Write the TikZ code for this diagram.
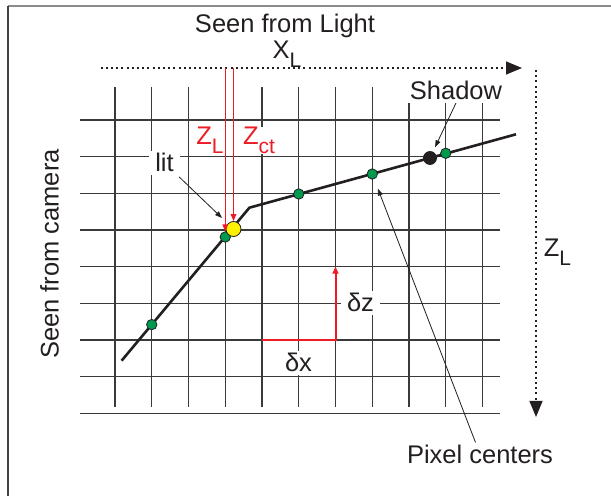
\documentclass[tikz,border=0pt]{standalone}
\usepackage{fontspec}
\setsansfont{Liberation Sans}
\usepackage{tikz}
\usetikzlibrary{arrows.meta}
\definecolor{ink}{HTML}{231F20}
\definecolor{gridgray}{HTML}{3A3A3A}
\definecolor{framegray}{HTML}{8C8C8C}
\definecolor{rayred}{HTML}{ED1C24}
\definecolor{pixgreen}{HTML}{009A4E}
\definecolor{lityellow}{HTML}{FFF200}
\newcommand{\lowidx}[1]{\raisebox{-4.5pt}{\fontsize{10.5}{12}\selectfont #1}}
\tikzset{
  font=\sffamily\fontsize{12.75}{15}\selectfont,
  gridline/.style={draw=gridgray, line width=0.65pt},
  surface/.style={draw=ink, line width=1.3pt},
  pix/.style={circle, draw=ink, line width=0.4pt, fill=pixgreen, minimum size=5.2pt, inner sep=0pt},
  litpt/.style={pix, fill=lityellow, minimum size=7.5pt},
  shadowpt/.style={pix, fill=ink, minimum size=6.5pt},
  lbl/.style={text=ink, anchor=base, inner sep=1pt},
  masklbl/.style={lbl, fill=white, inner xsep=3pt, inner ysep=1.5pt},
  axis/.style={draw=ink, line width=0.65pt, dash pattern=on 1pt off 1.6pt, -{Triangle[length=8pt,width=6.5pt]}},
  ray/.style={draw=rayred, line width=0.65pt, -{Triangle[length=3.5pt,width=2.8pt]}},
  delta/.style={draw=rayred, line width=1pt, -{Triangle[length=3.5pt,width=3pt]}},
  pointer/.style={draw=ink, line width=0.4pt, -{Triangle[length=3.5pt,width=2.5pt]}}
}
\begin{document}
\begin{tikzpicture}[x=0.5pt, y=-0.5pt]
  \useasboundingbox (0,0) rectangle (611,496);

  % Frame
  \draw[framegray, line width=1pt] (8,6) -- (611,6);
  \draw[ink!85, line width=0.6pt] (8,6) -- (8,496);

  % Pixel grid
  \foreach \r in {0,...,8}
    \draw[gridline] (80,{120+36.667*\r}) -- (500,{120+36.667*\r});
  \foreach \c in {0,...,10}
    \draw[gridline] ({115+36.75*\c},87) -- ({115+36.75*\c},407);

  % Light axes
  \coordinate (xa0) at (100.5,68);
  \coordinate (xa1) at (522,68);
  \coordinate (za0) at (536,70);
  \coordinate (za1) at (536,417);
  \draw[axis] (xa0) -- (xa1);
  \draw[axis] (za0) -- (za1);

  % Surface
  \coordinate (s0) at (121.6,360.7);
  \coordinate (s1) at (249.4,207.7);
  \coordinate (s2) at (516,134.3);
  \draw[surface] (s0) -- (s1) -- (s2);

  % Labels
  \node[lbl] (light) at (285,32.7) {Seen from Light};
  \node[lbl] (xl) at (287,59) {X\lowidx{L}};
  \node[lbl, rotate=90] (cam) at (58.5,254) {Seen from camera};
  \node[lbl, text=rayred] (zl) at (210,145) {Z\lowidx{L}};
  \node[masklbl, text=rayred, inner ysep=0pt] (zct) at (259,145) {Z\lowidx{ct}};
  \node[masklbl] (lit) at (164.5,172) {lit};
  \node[masklbl] (shadow) at (456,99.3) {Shadow};
  \node[masklbl] (dz) at (360.5,312) {δz};
  \node[masklbl, inner xsep=4pt] (dx) at (298.5,372) {δx};
  \node[lbl] (pc) at (480,463.3) {Pixel centers};
  \node[lbl] (zlr) at (557.5,256.7) {Z\lowidx{L}};

  % Depth steps
  \coordinate (d0) at (262,340);
  \coordinate (d1) at (335.5,340);
  \coordinate (d2) at (335.5,266.7);
  \draw[delta] (d0) -- (d1) -- (d2);

  % Pixel centers, lit point, shadow point
  \node[pix] (g1) at (151.75,324.6) {};
  \node[pix] (g2) at (225.25,237) {};
  \node[pix] (g3) at (298.75,194) {};
  \node[pix] (g4) at (372.25,174) {};
  \node[pix] (g5) at (445.75,153.3) {};
  \node[shadowpt] (sd) at (430,158) {};
  \node[litpt] (lp) at (233.5,229) {};

  % Rays from the light
  \draw[ray] (g2 |- xa0) -- (g2.north);
  \draw[ray] (lp |- xa0) -- (lp.north);

  % Pointers
  \draw[pointer, shorten <=1pt, shorten >=4pt] (lit) -- (lp);
  \draw[pointer, shorten >=2.5pt] (shadow.south) -- (sd);
  \draw[pointer, shorten >=5pt] (pc) -- (g4);
\end{tikzpicture}
\end{document}
